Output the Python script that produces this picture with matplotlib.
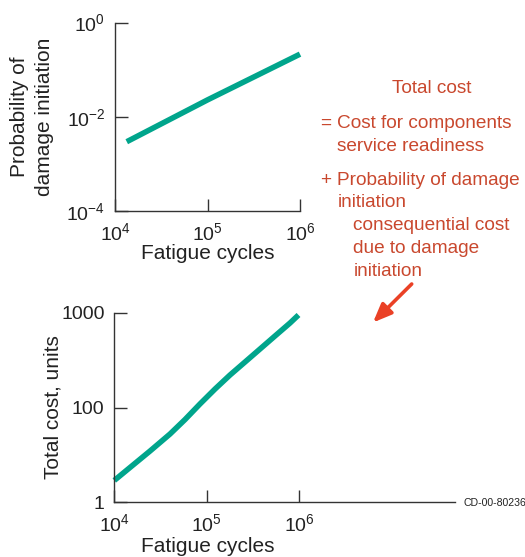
import matplotlib
matplotlib.use("Agg")
import matplotlib.pyplot as plt
from matplotlib.ticker import NullLocator
from matplotlib.patches import FancyArrowPatch

plt.rcParams["font.family"] = ["Liberation Sans", "DejaVu Sans"]
plt.rcParams["mathtext.fontset"] = "custom"
plt.rcParams["mathtext.rm"] = "Liberation Sans"
plt.rcParams["mathtext.it"] = "Liberation Sans:italic"
plt.rcParams["mathtext.bf"] = "Liberation Sans:bold"

# Probability of damage initiation vs. fatigue cycles
prob_cycles = [1.34e4, 1.0e5, 1.0e6]
prob_values = [3.0e-3, 2.3e-2, 0.214]
prob_xticks = [1e4, 1e5, 1e6]
prob_xlabels = ["$10^{4}$", "$10^{5}$", "$10^{6}$"]
prob_yticks = [1e-4, 1e-2, 1e0]
prob_ylabels = ["$10^{-4}$", "$10^{-2}$", "$10^{0}$"]

# Total cost vs. fatigue cycles
cost_cycles = [1.0e4, 1.48e4, 2.43e4, 4.0e4, 5.81e4, 8.44e4, 1.23e5,
               1.78e5, 2.59e5, 3.76e5, 5.46e5, 7.93e5, 9.8e5]
cost_values = [17.0, 23.3, 34.7, 52.5, 74.6, 109, 157,
               220, 302, 414, 568, 778, 946]
cost_xticks = [1e4, 1e5, 1e6]
cost_xlabels = ["$10^{4}$", "$10^{5}$", "$10^{6}$"]
cost_yticks = [10, 100, 1000]
cost_ylabels = ["1", "100", "1000"]

# Explanatory note (equation for total cost)
note_title = "Total cost"
note_lines = [
    ("=", "Cost for components", "service readiness"),
    ("+", "Probability of damage", "initiation"),
]
note_sub = ["consequential cost", "due to damage", "initiation"]

LINE = "#00a58c"
RED_TXT = "#c9482e"
RED_ARROW = "#ea4126"
AXC = "#333333"

W, H = 525, 557
fig = plt.figure(figsize=(W / 100, H / 100), dpi=100)
fig.patch.set_facecolor("white")


def px(x, y):
    return x / W, 1 - y / H


def style_axes(ax):
    for s in ("top", "right"):
        ax.spines[s].set_visible(False)
    for s in ("left", "bottom"):
        ax.spines[s].set_color(AXC)
        ax.spines[s].set_linewidth(1.0)
    ax.xaxis.set_minor_locator(NullLocator())
    ax.yaxis.set_minor_locator(NullLocator())
    ax.tick_params(axis="both", which="major", direction="in", length=9,
                   width=1.0, color=AXC, labelsize=14, labelcolor="#222222")
    ax.tick_params(axis="x", pad=8)
    ax.tick_params(axis="y", pad=7)
    ax.set_facecolor("none")


# ---- upper panel ----
ax1 = fig.add_axes([115 / W, 1 - 211.5 / H, 185 / W, 189 / H])
ax1.set_xscale("log")
ax1.set_yscale("log")
ax1.plot(prob_cycles, prob_values, color=LINE, lw=4, solid_capstyle="butt",
         clip_on=False)
ax1.set_xlim(1e4, 1e6)
ax1.set_ylim(1e-4, 1e0)
style_axes(ax1)
ax1.set_xticks(prob_xticks, prob_xlabels)
ax1.set_yticks(prob_yticks, prob_ylabels)
ax1.set_xlabel("Fatigue cycles", fontsize=15, color="#222222",
               va="center", ha="center")
ax1.xaxis.set_label_coords(0.503, -0.223)
ax1.set_ylabel("Probability of\ndamage initiation", fontsize=15,
               color="#222222", va="center", ha="center", linespacing=1.4)
ax1.yaxis.set_label_coords(-0.446, 0.5)

# ---- lower panel ----
ax2 = fig.add_axes([114.3 / W, 1 - 502.3 / H, 340.7 / W, 189.6 / H])
ax2.set_xscale("log")
ax2.set_yscale("log")
ax2.plot(cost_cycles, cost_values, color=LINE, lw=4, solid_capstyle="butt",
         solid_joinstyle="round", clip_on=False)
ax2.set_xlim(1e4, 10 ** 7.683)
ax2.set_ylim(10, 1000)
style_axes(ax2)
ax2.set_xticks(cost_xticks, cost_xlabels)
ax2.set_yticks(cost_yticks, cost_ylabels)
ax2.set_xlabel("Fatigue cycles", fontsize=15, color="#222222",
               va="center", ha="center")
ax2.xaxis.set_label_coords(0.2736, -0.235)
ax2.set_ylabel("Total cost, units", fontsize=15, color="#222222",
               va="center", ha="center")
ax2.yaxis.set_label_coords(-0.18, 0.5)

# ---- red note ----
fs = 13.7
fig.text(*px(431.7, 93.3), note_title, color=RED_TXT, fontsize=fs,
         ha="center", va="baseline")
baselines = [(128.3, 150.7), (185.0, 207.3)]
for (sign, l1, l2), (b1, b2) in zip(note_lines, baselines):
    fig.text(*px(320.5, b1), sign, color=RED_TXT, fontsize=fs,
             ha="left", va="baseline")
    fig.text(*px(337.3, b1), l1, color=RED_TXT, fontsize=fs,
             ha="left", va="baseline")
    fig.text(*px(337.3, b2), l2, color=RED_TXT, fontsize=fs,
             ha="left", va="baseline")
for line, b in zip(note_sub, [230.0, 253.3, 276.0]):
    fig.text(*px(353.3, b), line, color=RED_TXT, fontsize=fs,
             ha="left", va="baseline")

arrow = FancyArrowPatch(px(411.7, 284), px(373, 322.5),
                        transform=fig.transFigure,
                        arrowstyle="-|>,head_length=0.8,head_width=0.33",
                        mutation_scale=14, lw=2.6, color=RED_ARROW,
                        shrinkA=0, shrinkB=0)
fig.patches.append(arrow)

fig.text(*px(463, 503), "CD-00-80236", fontsize=7.6, color="#222222",
         ha="left", va="center")

fig.savefig("out.png", dpi=100, facecolor="white")
